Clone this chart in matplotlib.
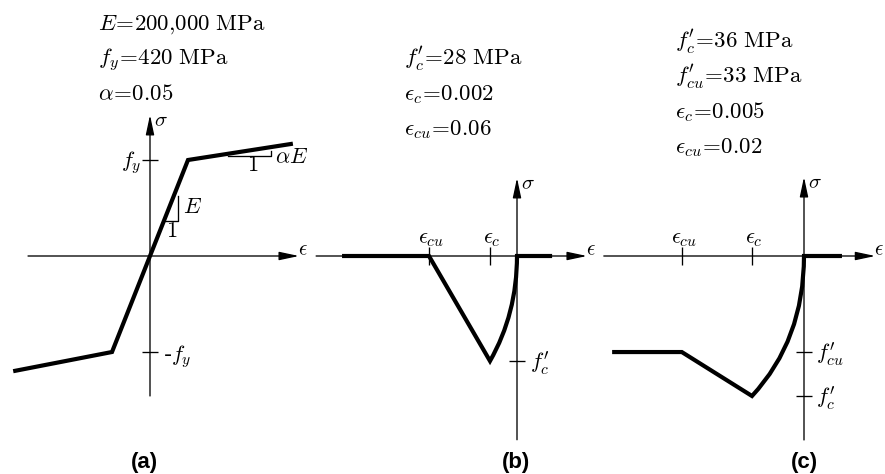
import matplotlib
matplotlib.use("Agg")
import matplotlib.pyplot as plt
from matplotlib.path import Path
from matplotlib.patches import PathPatch

plt.rcParams["mathtext.fontset"] = "cm"
plt.rcParams["font.family"] = ["DejaVu Sans"]

W, H, DPI = 885, 474, 100

# ---------------- (a) bilinear steel: strain in eps_y, stress in f_y
steel_params = [r"$E\!=\!200{,}000\ \mathrm{MPa}$",
                r"$f_y\!=\!420\ \mathrm{MPa}$",
                r"$\alpha\!=\!0.05$"]
steel_strain = [-3.6, -1.0, 0.0, 1.0, 3.76]
steel_stress = [-1.2, -1.0, 0.0, 1.0, 1.17]
steel_stress_ticks = [1.0, -1.0]
steel_stress_labels = [r"$f_y$", r"-$f_y$"]
slope_E_x = [0.385, 0.73, 0.73]
slope_E_y = [0.365, 0.365, 0.62]
slope_aE_x = [2.06, 3.18, 3.18]
slope_aE_y = [1.045, 1.045, 1.097]

# ---------------- (b) concrete, strain in eps_c, stress in f'_c
conc_b_params = [r"$f_c'\!=\!28\ \mathrm{MPa}$",
                 r"$\epsilon_c\!=\!0.002$",
                 r"$\epsilon_{cu}\!=\!0.06$"]
# residual, eps_cu, peak, (parabola control), origin, tension
conc_b_strain = [-6.48, -3.26, -1.0, 0.0, 0.0, 1.3]
conc_b_stress = [0.0, 0.0, -1.0, -0.55, 0.0, 0.0]
conc_b_strain_ticks = [-3.26, -1.0]
conc_b_strain_labels = [r"$\epsilon_{cu}$", r"$\epsilon_c$"]
conc_b_stress_ticks = [-1.0]
conc_b_stress_labels = [r"$f_c'$"]

# ---------------- (c) concrete with residual plateau
conc_c_params = [r"$f_c'\!=\!36\ \mathrm{MPa}$",
                 r"$f_{cu}'\!=\!33\ \mathrm{MPa}$",
                 r"$\epsilon_c\!=\!0.005$",
                 r"$\epsilon_{cu}\!=\!0.02$"]
conc_c_strain = [-3.69, -2.35, -1.0, 0.0, 0.0, 0.73]
conc_c_stress = [-0.686, -0.686, -1.0, -0.6, 0.0, 0.0]
conc_c_strain_ticks = [-2.35, -1.0]
conc_c_strain_labels = [r"$\epsilon_{cu}$", r"$\epsilon_c$"]
conc_c_stress_ticks = [-0.686, -1.0]
conc_c_stress_labels = [r"$f_{cu}'$", r"$f_c'$"]

panel_names = ["(a)", "(b)", "(c)"]

# ---------------- drawing helpers
fig = plt.figure(figsize=(W / DPI, H / DPI), dpi=DPI)
fig.patch.set_facecolor("white")

THIN = 0.95
THICK = 3.0
LABEL = 16
ARROW = dict(arrowstyle="-|>,head_length=0.8,head_width=0.17",
             mutation_scale=15, lw=THIN, color="black",
             shrinkA=0, shrinkB=0)


def panel_axes(origin_px, unit_px):
    ax = fig.add_axes([0, 0, 1, 1])
    ox, oy = origin_px
    sx, sy = unit_px
    ax.set_xlim(-ox / sx, (W - ox) / sx)
    ax.set_ylim(-(H - oy) / sy, oy / sy)
    ax.axis("off")
    ax.patch.set_alpha(0)
    return ax


def draw_axes(ax, xspan, yspan):
    ax.annotate("", xy=(xspan[1], 0), xytext=(xspan[0], 0), arrowprops=ARROW)
    ax.annotate("", xy=(0, yspan[1]), xytext=(0, yspan[0]), arrowprops=ARROW)
    ax.annotate(r"$\epsilon$", xy=(xspan[1], 0), xytext=(-1, 5),
                textcoords="offset points", ha="left", va="center", fontsize=15)
    ax.annotate(r"$\sigma$", xy=(0, yspan[1]), xytext=(3, -4),
                textcoords="offset points", ha="left", va="center", fontsize=15)


def stress_ticks(ax, ticks, labels):
    ax.plot([0] * len(ticks), ticks, ls="none", marker="_", ms=12,
            mew=THIN, color="black")
    for t, lab in zip(ticks, labels):
        ax.annotate(lab, xy=(0, t), xytext=(9, -2), textcoords="offset points",
                    ha="left", va="center", fontsize=LABEL)


def strain_ticks(ax, ticks, labels):
    ax.plot(ticks, [0] * len(ticks), ls="none", marker="|", ms=13,
            mew=THIN, color="black")
    for t, lab in zip(ticks, labels):
        ax.annotate(lab, xy=(t, 0), xytext=(1.5, 5), textcoords="offset points",
                    ha="center", va="bottom", fontsize=LABEL)


def concrete_path(ax, strain, stress):
    codes = [Path.MOVETO, Path.LINETO, Path.LINETO,
             Path.CURVE3, Path.CURVE3, Path.LINETO]
    path = Path(list(zip(strain, stress)), codes)
    ax.add_patch(PathPatch(path, fill=False, lw=THICK, edgecolor="black",
                           joinstyle="miter", capstyle="butt"))


# ---------------- (a)
ax_a = panel_axes((150, 256), (38, 96))
draw_axes(ax_a, (-3.21, 3.92), (-1.458, 1.469))
ax_a.plot(steel_strain, steel_stress, color="black", lw=THICK,
          solid_joinstyle="miter", solid_capstyle="butt")
ax_a.plot([0, 0], steel_stress_ticks, ls="none", marker="_", ms=12,
          mew=THIN, color="black")
ax_a.annotate(steel_stress_labels[0], xy=(0, steel_stress_ticks[0]), xytext=(-6.5, -1.5),
              textcoords="offset points", ha="right", va="center", fontsize=LABEL)
ax_a.annotate(steel_stress_labels[1], xy=(0, steel_stress_ticks[1]), xytext=(9, -3),
              textcoords="offset points", ha="left", va="center", fontsize=LABEL)
ax_a.plot(slope_E_x, slope_E_y, color="black", lw=THIN)
ax_a.plot(slope_aE_x, slope_aE_y, color="black", lw=THIN)
ax_a.text(0.87, 0.51, r"$E$", ha="left", va="center", fontsize=LABEL)
ax_a.text(0.58, 0.26, r"$1$", ha="center", va="center", fontsize=LABEL)
ax_a.text(2.71, 0.95, r"$1$", ha="center", va="center", fontsize=LABEL)
ax_a.text(3.29, 1.03, r"$\alpha E$", ha="left", va="center", fontsize=LABEL)

# ---------------- (b)
ax_b = panel_axes((517, 256), (27, 105))
draw_axes(ax_b, (-7.44, 2.59), (-1.75, 0.743))
concrete_path(ax_b, conc_b_strain, conc_b_stress)
strain_ticks(ax_b, conc_b_strain_ticks, conc_b_strain_labels)
stress_ticks(ax_b, conc_b_stress_ticks, conc_b_stress_labels)

# ---------------- (c)
ax_c = panel_axes((804, 256), (52, 140))
draw_axes(ax_c, (-3.85, 1.37), (-1.314, 0.564))
concrete_path(ax_c, conc_c_strain, conc_c_stress)
strain_ticks(ax_c, conc_c_strain_ticks, conc_c_strain_labels)
stress_ticks(ax_c, conc_c_stress_ticks, conc_c_stress_labels)

# ---------------- parameter blocks and panel captions
for params, x0, y0 in [(steel_params, 98, 30),
                       (conc_b_params, 404, 65),
                       (conc_c_params, 675, 48)]:
    for i, s in enumerate(params):
        fig.text(x0 / W, 1 - (y0 + 35 * i) / H, s, ha="left", va="baseline",
                 fontsize=16.5)

for name, cx in zip(panel_names, [144, 516, 804]):
    fig.text(cx / W, 1 - 468 / H, name, ha="center", va="baseline",
             fontsize=16, fontweight="bold", family="Liberation Sans")

fig.savefig("out.png", dpi=DPI, facecolor="white")
